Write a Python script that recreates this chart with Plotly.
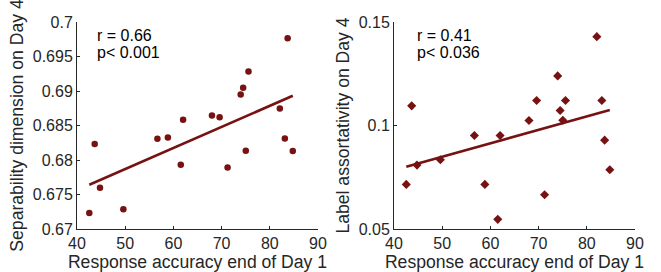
import numpy as np
import plotly.graph_objects as go

accuracy = [42.55, 43.67, 44.77, 49.62, 56.68, 58.85, 61.53, 62.01, 68.0, 69.59,
            71.24, 73.96, 74.47, 75.02, 75.58, 82.08, 83.12, 83.7, 84.77]
separability = [0.67232, 0.68231, 0.67598, 0.67285, 0.68308, 0.68327, 0.67931, 0.68583,
                0.68646, 0.6862, 0.67893, 0.6895, 0.69046, 0.68134, 0.69283, 0.68747,
                0.68313, 0.69765, 0.68129]
assortativity = [0.07154, 0.10949, 0.08087, 0.08344, 0.09518, 0.07154, 0.05466, 0.09518,
                 0.10241, 0.11206, 0.06656, 0.12395, 0.10723, 0.10257, 0.11206, 0.14293,
                 0.11206, 0.09293, 0.07862]

left_ticks = [0.67, 0.675, 0.68, 0.685, 0.69, 0.695, 0.7]
left_ticktext = ["0.67", "0.675", "0.68", "0.685", "0.69", "0.695", "0.7"]
right_ticks = [0.05, 0.1, 0.15]
right_ticktext = ["0.05", "0.1", "0.15"]
x_ticks = [40, 50, 60, 70, 80, 90]

stats_left = ["r = 0.66", "p< 0.001"]
stats_right = ["r = 0.41", "p< 0.036"]

COL = "rgb(118,18,18)"
FONT = "Liberation Sans, Arial, sans-serif"
TXT = "#262626"

fig = go.Figure()

def fit_line(x, y):
    x = np.asarray(x); y = np.asarray(y)
    m, b = np.polyfit(x, y, 1)
    xs = np.array([x.min(), x.max()])
    return xs, m * xs + b

fig.add_trace(go.Scatter(x=accuracy, y=separability, mode="markers",
                         marker=dict(symbol="circle", size=6.5, color=COL),
                         xaxis="x", yaxis="y", showlegend=False))
lx, ly = fit_line(accuracy, separability)
fig.add_trace(go.Scatter(x=lx, y=ly, mode="lines", line=dict(color=COL, width=2.6),
                         xaxis="x", yaxis="y", showlegend=False))

fig.add_trace(go.Scatter(x=accuracy, y=assortativity, mode="markers",
                         marker=dict(symbol="diamond", size=7, color=COL),
                         xaxis="x2", yaxis="y2", showlegend=False))
rx, ry = fit_line(accuracy, assortativity)
fig.add_trace(go.Scatter(x=rx, y=ry, mode="lines", line=dict(color=COL, width=2.6),
                         xaxis="x2", yaxis="y2", showlegend=False))

W, H = 661, 272
def px_x(a, b):
    return [a / W, b / W]
ydom = [1 - 229 / H, 1 - 22 / H]

axis_common = dict(showline=True, linecolor="#262626", linewidth=1, ticks="inside",
                   ticklen=3, tickcolor="#262626", showgrid=False, zeroline=False,
                   tickfont=dict(family=FONT, size=16, color=TXT), automargin=False)
title_font = dict(family=FONT, size=17.6, color=TXT)

annotations = []
for x0, lines in ((95, stats_left), (415, stats_right)):
    for i, t in enumerate(lines):
        annotations.append(dict(text=t, xref="paper", yref="paper", x=x0 / W,
                                y=1 - (35 + 18 * i) / H, xanchor="left", yanchor="middle",
                                showarrow=False, font=dict(family=FONT, size=16, color="black")))

fig.update_layout(
    width=W, height=H, margin=dict(l=0, r=0, t=0, b=0),
    paper_bgcolor="white", plot_bgcolor="white",
    font=dict(family=FONT, color=TXT),
    xaxis=dict(domain=px_x(77, 318), range=[40, 90], tickvals=x_ticks, anchor="y",
               title=dict(text="Response accuracy end of Day 1", font=title_font, standoff=2),
               **axis_common),
    yaxis=dict(domain=ydom, range=[0.67, 0.7], tickvals=left_ticks, ticktext=left_ticktext, anchor="x",
               title=dict(text="Separability dimension on Day 4", font=title_font, standoff=4),
               **axis_common),
    xaxis2=dict(domain=px_x(394, 635), range=[40, 90], tickvals=x_ticks, anchor="y2",
                title=dict(text="Response accuracy end of Day 1", font=title_font, standoff=2),
                **axis_common),
    yaxis2=dict(domain=ydom, range=[0.05, 0.15], tickvals=right_ticks, ticktext=right_ticktext, anchor="x2",
                title=dict(text="Label assortativity on Day 4", font=title_font, standoff=4),
                **axis_common),
    annotations=annotations,
)

fig.write_html("out.html", config={"displayModeBar": False},
               post_script="document.body.style.margin='0';")
